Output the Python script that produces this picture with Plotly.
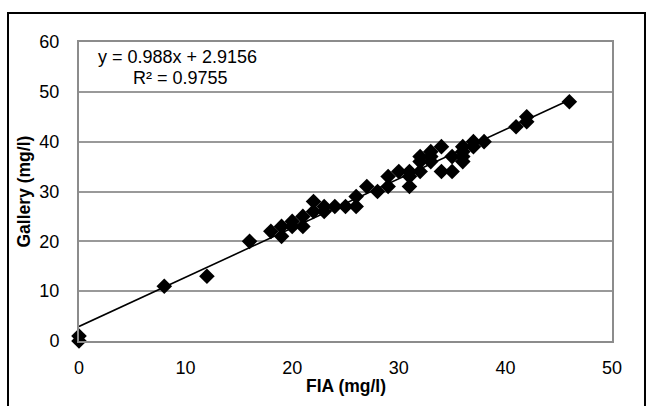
import plotly.graph_objects as go

# Data
fia = [0, 0, 8, 12, 16, 18, 19, 19, 20, 20, 21, 21, 22, 22, 23, 23, 24, 25,
       26, 26, 27, 28, 29, 29, 30, 31, 31, 31, 32, 32, 32, 33, 33, 33, 34, 34,
       35, 35, 36, 36, 36, 36, 37, 37, 38, 41, 42, 42, 46]
gallery = [1, 0, 11, 13, 20, 22, 23, 21, 24, 23, 25, 23, 28, 26, 27, 26, 27, 27,
           29, 27, 31, 30, 33, 31, 34, 34, 33, 31, 37, 36, 34, 38, 37, 36, 39, 34,
           37, 34, 39, 38, 37, 36, 40, 39, 40, 43, 45, 44, 48]

slope = 0.988
intercept = 2.9156
r2 = 0.9755
trend_x = [min(fia), max(fia)]
trend_y = [slope * v + intercept for v in trend_x]

x_ticks = [0, 10, 20, 30, 40, 50]
y_ticks = [0, 10, 20, 30, 40, 50, 60]

FONT = "Liberation Sans, Arial, sans-serif"

fig = go.Figure()
fig.add_trace(go.Scatter(
    x=trend_x, y=trend_y, mode="lines",
    line=dict(color="black", width=1.6),
    showlegend=False, hoverinfo="skip",
))
fig.add_trace(go.Scatter(
    x=fia, y=gallery, mode="markers",
    marker=dict(symbol="diamond", size=12, color="black"),
    cliponaxis=False, showlegend=False,
))

fig.update_layout(
    width=647, height=406,
    margin=dict(l=79, r=35, t=42, b=65),
    paper_bgcolor="white", plot_bgcolor="white",
    font=dict(family=FONT, size=18, color="black"),
    xaxis=dict(
        range=[0, 50], tickvals=x_ticks, showgrid=False, zeroline=False,
        showline=True, mirror=True, linecolor="#8c8c8c", linewidth=2,
        ticks="outside", ticklen=9, tickcolor="rgba(0,0,0,0)",
        tickfont=dict(size=18),
    ),
    yaxis=dict(
        range=[0, 60], tickvals=y_ticks, showgrid=True, gridcolor="#999999",
        gridwidth=2, zeroline=False,
        showline=True, mirror=True, linecolor="#8c8c8c", linewidth=2,
        ticks="outside", ticklen=14, tickcolor="rgba(0,0,0,0)",
        tickfont=dict(size=18),
    ),
    shapes=[dict(
        type="rect", xref="paper", yref="paper",
        x0=-0.1332, x1=1.0619, y0=-0.25, y1=1.097,
        line=dict(color="black", width=2),
        layer="above",
    )],
    annotations=[
        dict(text="<b>FIA (mg/l)</b>", xref="paper", yref="paper",
             x=0.5, y=-0.1505, xanchor="center", yanchor="middle",
             showarrow=False, font=dict(size=17.5)),
        dict(text="<b>Gallery (mg/l)</b>", xref="paper", yref="paper",
             x=-0.1032, y=0.5, xanchor="center", yanchor="middle",
             textangle=-90, showarrow=False, font=dict(size=17.5)),
        dict(text=f"y = {slope}x + {intercept}", xref="x", yref="y",
             x=1.6, y=57.0, xanchor="left", yanchor="middle",
             showarrow=False, font=dict(size=18)),
        dict(text=f"R² = {r2}", xref="x", yref="y",
             x=4.88, y=52.8, xanchor="left", yanchor="middle",
             showarrow=False, font=dict(size=18)),
    ],
)

fig.write_html("out.html", config={"displayModeBar": False},
               post_script="document.body.style.margin='0';")
